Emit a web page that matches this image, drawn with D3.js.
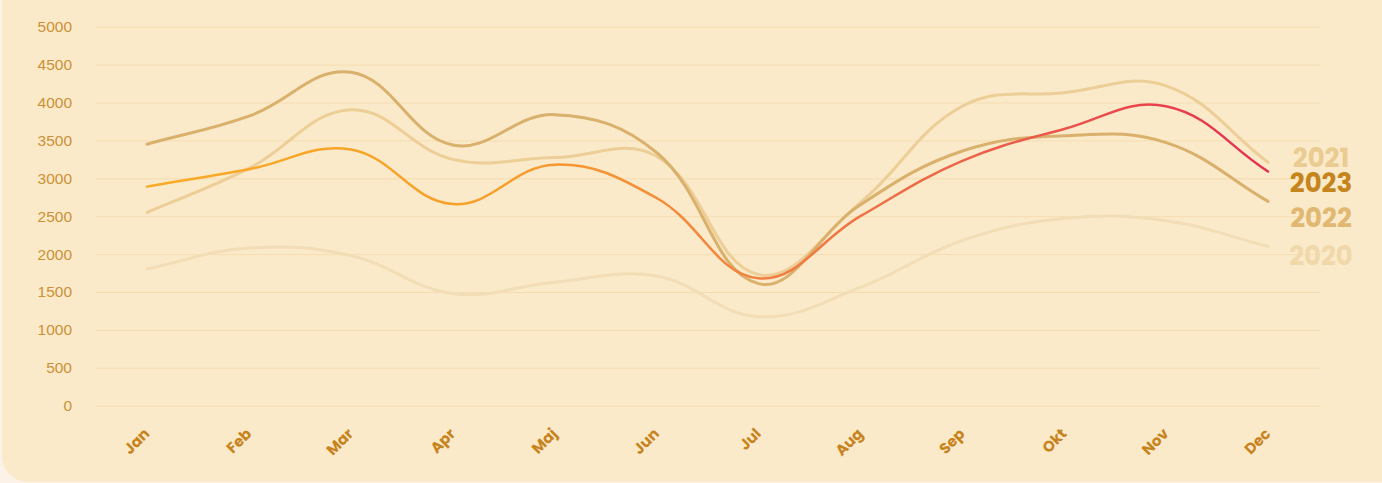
<!DOCTYPE html>
<html>
<head>
<meta charset="utf-8">
<script src="https://cdn.jsdelivr.net/npm/d3@7"></script>
<style>
  html, body { margin: 0; padding: 0; background: #FCF2E8; overflow: hidden; }
  svg { display: block; }
</style>
</head>
<body>
<svg id="chart" width="1382" height="483"></svg>
<script>
// ---- data ----
const months = ["Jan","Feb","Mar","Apr","Maj","Jun","Jul","Aug","Sep","Okt","Nov","Dec"];
const yTicks = [0, 500, 1000, 1500, 2000, 2500, 3000, 3500, 4000, 4500, 5000];
const values2020 = [1805, 2080, 1980, 1480, 1630, 1710, 1175, 1560, 2180, 2470, 2440, 2100];
const values2021 = [2550, 3130, 3905, 3250, 3275, 3290, 1730, 2680, 3950, 4130, 4220, 3210];
const values2022 = [3450, 3820, 4400, 3440, 3840, 3340, 1610, 2650, 3360, 3560, 3470, 2695];
const values2023 = [2890, 3120, 3380, 2660, 3180, 2740, 1680, 2500, 3230, 3650, 3950, 3090];
const seriesNames = ["2020", "2021", "2022", "2023"];

// ---- layout / style ----
const W = 1382, H = 483;
const plot = { left: 96, right: 1320, top: 26.7, bottom: 405.7 };
const firstX = 147, lastX = 1268;
const styles = {
  "2020": { stroke: "#F3DDB6", width: 3, label: "#F0D8AA", shift: 9.5 },
  "2021": { stroke: "#EDCE97", width: 3, label: "#EACB91", shift: -5 },
  "2022": { stroke: "#D9B06C", width: 3, label: "#E0B872", shift: 16 },
  "2023": { stroke: "url(#grad2023)", width: 2.5, label: "#C6841C", shift: 11 }
};

const svg = d3.select("#chart");

// card background
svg.append("rect")
  .attr("x", 2).attr("y", -40)
  .attr("width", W + 40).attr("height", 522)
  .attr("rx", 26).attr("ry", 26)
  .attr("fill", "#FAEAC9");

const x = d3.scalePoint().domain(months).range([firstX, lastX]);
const y = d3.scaleLinear().domain([0, 5000]).range([plot.bottom, plot.top]);

// gradient for 2023
const defs = svg.append("defs");
const grad = defs.append("linearGradient")
  .attr("id", "grad2023")
  .attr("gradientUnits", "userSpaceOnUse")
  .attr("x1", firstX).attr("y1", 0).attr("x2", lastX).attr("y2", 0);
[[0, "#F9AB25"], [0.3, "#F7A02B"], [0.5, "#F3883D"], [0.7, "#EE6847"], [0.88, "#E9474D"], [1, "#E52F50"]]
  .forEach(([o, c]) => grad.append("stop").attr("offset", o).attr("stop-color", c));

// grid lines + y labels via axis
const yAxis = d3.axisLeft(y).tickValues(yTicks)
  .tickSize(-(plot.right - plot.left)).tickPadding(24).tickFormat(d3.format("d"));
const gy = svg.append("g")
  .attr("transform", `translate(${plot.left},0)`)
  .call(yAxis);
gy.select(".domain").remove();
gy.selectAll(".tick line").attr("stroke", "#F5DCB0").attr("stroke-width", 1);
gy.selectAll(".tick text")
  .attr("fill", "#CC9136")
  .attr("font-family", "Arial, 'Liberation Sans', sans-serif")
  .attr("font-size", 15.5);

// x labels via axis
const xAxis = d3.axisBottom(x).tickSize(0).tickPadding(0);
const gx = svg.append("g").attr("transform", `translate(0,${plot.bottom})`).call(xAxis);
gx.select(".domain").remove();
gx.selectAll(".tick text")
  .attr("fill", "#C7831D")
  .attr("font-family", "Poppins, 'Open Sans', Arial, sans-serif")
  .attr("font-weight", 700)
  .attr("font-size", 15)
  .attr("text-anchor", "end")
  .attr("dy", 0)
  .attr("y", 0)
  .attr("transform", "translate(3,29) rotate(-45)");

// Chart.js-like spline curve (tension 0.4)
function SplineCurve(context, tension) { this._context = context; this._t = tension; }
SplineCurve.prototype = {
  areaStart() {}, areaEnd() {},
  lineStart() { this._pts = []; },
  point(px, py) { this._pts.push([+px, +py]); },
  lineEnd() {
    const p = this._pts, n = p.length, t = this._t, c = this._context;
    if (!n) return;
    const cps = p.map((cur, i) => {
      const prev = p[i - 1] || cur, next = p[i + 1] || cur;
      const d01 = Math.hypot(cur[0] - prev[0], cur[1] - prev[1]);
      const d12 = Math.hypot(next[0] - cur[0], next[1] - cur[1]);
      let s01 = d01 / (d01 + d12), s12 = d12 / (d01 + d12);
      if (!isFinite(s01)) s01 = 0; if (!isFinite(s12)) s12 = 0;
      const fa = t * s01, fb = t * s12;
      return {
        prev: [cur[0] - fa * (next[0] - prev[0]), cur[1] - fa * (next[1] - prev[1])],
        next: [cur[0] + fb * (next[0] - prev[0]), cur[1] + fb * (next[1] - prev[1])]
      };
    });
    c.moveTo(p[0][0], p[0][1]);
    for (let i = 1; i < n; i++) {
      c.bezierCurveTo(cps[i - 1].next[0], cps[i - 1].next[1], cps[i].prev[0], cps[i].prev[1], p[i][0], p[i][1]);
    }
  }
};
const splineCurve = ctx => new SplineCurve(ctx, 0.4);

const line = d3.line()
  .x((d, i) => x(months[i]))
  .y(d => y(d))
  .curve(splineCurve);

const seriesData = { "2020": values2020, "2021": values2021, "2022": values2022, "2023": values2023 };

const gl = svg.append("g");
seriesNames.forEach(name => {
  gl.append("path")
    .datum(seriesData[name])
    .attr("d", line)
    .attr("fill", "none")
    .attr("stroke", styles[name].stroke)
    .attr("stroke-width", styles[name].width)
    .attr("stroke-linecap", "round")
    .attr("stroke-linejoin", "round");
});

// end labels
const gLab = svg.append("g");
seriesNames.forEach(name => {
  const vals = seriesData[name];
  gLab.append("text")
    .attr("x", 1321)
    .attr("y", y(vals[vals.length - 1]) + styles[name].shift)
    .attr("dy", "0.36em")
    .attr("text-anchor", "middle")
    .attr("font-family", "Poppins, 'Open Sans', sans-serif")
    .attr("font-weight", 700)
    .attr("font-size", 26)
    .attr("fill", styles[name].label)
    .text(name);
});
</script>
</body>
</html>
